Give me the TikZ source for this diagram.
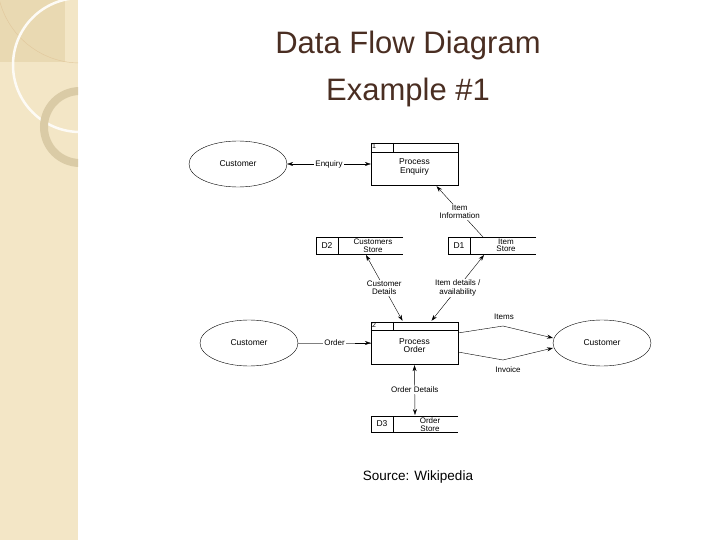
\documentclass[tikz,border=0pt]{standalone}
\usepackage{fontspec}
\setmainfont{Liberation Sans}
\usetikzlibrary{arrows.meta,calc,shapes.geometric}
\definecolor{strip}{HTML}{F3E6C6}
\definecolor{stripd}{HTML}{E9D9B2}
\definecolor{ring}{HTML}{DACBA6}
\definecolor{title}{HTML}{4A2E22}
\begin{document}
\begin{tikzpicture}[x=1pt,y=-1pt,
  lab/.style={font=\fontsize{8}{8.5}\selectfont, inner sep=1pt, fill=white, align=center},
  ent/.style={draw, ellipse, minimum width=98pt, minimum height=46pt, font=\fontsize{8.5}{9}\selectfont},
  proc/.style={draw, minimum width=87pt, minimum height=42pt, inner sep=0pt, font=\fontsize{8.5}{8.5}\selectfont, align=center, text depth=0pt},
  fl/.style={-{Stealth[length=6pt,width=4pt]}, line width=0.4pt},
  bfl/.style={{Stealth[length=6pt,width=4pt]}-{Stealth[length=6pt,width=4pt]}, line width=0.4pt},
  st/.style={font=\fontsize{8}{7.5}\selectfont, align=center}
]
\useasboundingbox (0,0) rectangle (720,540);
% decorative strip
\fill[strip] (0,0) rectangle (78,540);
\begin{scope}
\clip (0,0) rectangle (78,540);
\fill[stripd] (0,0) rectangle (65,62);
\draw[stripd!80!brown, line width=0.4pt] (80,-20) circle (83);
\draw[white!85!strip, line width=2.5pt] (80,65) circle (67);
\draw[ring, line width=8pt] (80,127) circle (36);
\end{scope}
% title
\node[title, font=\fontsize{31}{47}\selectfont, align=center] (t) at (408,69) {Data Flow Diagram\\Example \#1};
\node[font=\fontsize{13.5}{14}\selectfont] (src) at (418,477) {Source: Wikipedia};
% entities
\node[ent] (c1) at (238,164) {Customer};
\node[ent] (c2) at (249,343) {Customer};
\node[ent] (c3) at (602,343) {Customer};
% processes
\node[proc] (p1) at (414.5,164) {\\[2pt]Process\\Enquiry};
\draw ($(p1.north west)+(0,9)$) -- ($(p1.north east)+(0,9)$);
\draw ($(p1.north west)+(22,0)$) -- ($(p1.north west)+(22,9)$);
\node[font=\fontsize{7}{7}\selectfont, anchor=north west, inner sep=1pt] at (p1.north west) {1};
\node[proc] (p2) at (414.5,343) {\\[2pt]Process\\Order};
\draw ($(p2.north west)+(0,8)$) -- ($(p2.north east)+(0,8)$);
\draw ($(p2.north west)+(22,0)$) -- ($(p2.north west)+(22,8)$);
\node[font=\fontsize{7}{7}\selectfont, anchor=north west, inner sep=1pt] at (p2.north west) {2};
% stores
\draw (403,237) -- (316,237) -- (316,254) -- (403,254); \draw (338,237) -- (338,254);
\node (d2l) at (327,245.5) {\fontsize{8.5}{8}\selectfont D2};
\node[st] (d2) at (373,245.5) {Customers\\Store};
\draw (536,237) -- (448,237) -- (448,254) -- (536,254); \draw (470,237) -- (470,254);
\node (d1l) at (459,245.5) {\fontsize{8.5}{8}\selectfont D1};
\node[st] (d1) at (506,245.5) {Item\\Store};
\draw (458,416) -- (371,416) -- (371,432) -- (458,432); \draw (393,416) -- (393,432);
\node (d3l) at (382,424) {\fontsize{8.5}{8}\selectfont D3};
\node[st] (d3) at (430,424.5) {Order\\Store};
\coordinate (d1top) at (483,237);
\coordinate (d1bot) at (484,255);
\coordinate (d2bot) at (366,255);
\coordinate (d3top) at (415,415);
% flows
\draw[bfl] (c1.east) -- node[lab] {Enquiry} (p1.west |- c1.east);
\draw[fl] (d1top) -- node[lab, pos=0.5] {Item\\Information} ($(p1.south)+(22,1)$);
\draw[bfl] (d2bot) -- node[lab] {Customer\\Details} ($(p2.north)+(-12,-1)$);
\draw[bfl] (d1bot) -- node[lab] {Item details /\\availability} ($(p2.north)+(17,-1)$);
\draw[gray] (c2.east) -- node[lab, text=black] {Order} (p2.west |- c2.east);
\draw[fl] (355,343) -- (p2.west |- c2.east);
\draw[fl] ($(p2.north east)+(1,11)$) -- (503,326) -- (553,338);
\node[lab] (items) at (504,317) {Items};
\draw[fl] ($(p2.south east)+(1,-12)$) -- (503,360) -- (553,348);
\node[lab] (inv) at (508,370) {Invoice};
\draw[bfl] ($(p2.south)+(0,1)$) -- node[lab] {Order Details} (d3top);
\end{tikzpicture}
\end{document}
